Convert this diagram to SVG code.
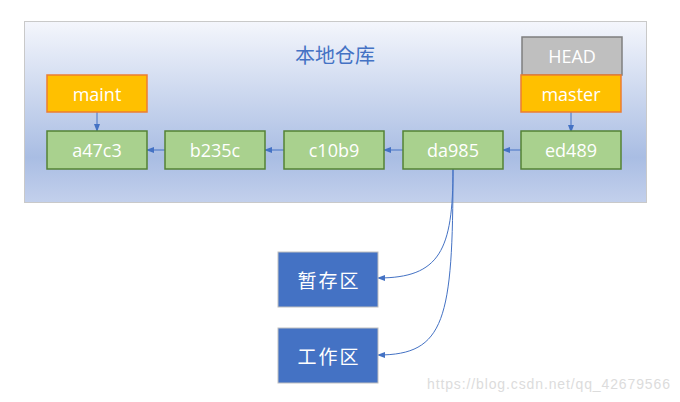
<svg xmlns="http://www.w3.org/2000/svg" width="680" height="402" viewBox="0 0 680 402">
<style>
.t{font-family:"Open Sans","Liberation Sans","Noto Sans CJK SC",sans-serif;font-size:18px;fill:#fff;text-anchor:middle;dominant-baseline:central}
.cjk{font-family:"Noto Sans CJK SC",sans-serif;font-size:19px;letter-spacing:2px}
.commit{fill:#a9d18e;stroke:#548235;stroke-width:1.5}
.br{fill:#ffc000;stroke:#ed7d31;stroke-width:1.5}
.area{fill:#4472c4;stroke:#bfbfbf;stroke-width:1}
.c{fill:none;stroke:#4472c4;stroke-width:1;marker-end:url(#ah)}
</style>
<defs>
<linearGradient id="bg" x1="0" y1="0" x2="0" y2="1">
<stop offset="0" stop-color="#f4f6fc"/>
<stop offset="0.75" stop-color="#a9bde3"/>
<stop offset="1" stop-color="#c3d0ec"/>
</linearGradient>
<marker id="ah" markerWidth="8" markerHeight="6" refX="7" refY="3" orient="auto" markerUnits="userSpaceOnUse">
<path d="M0,0 L8,3 L0,6 Z" fill="#4472c4"/>
</marker>
</defs>
<rect x="24.5" y="21.5" width="622" height="181" fill="url(#bg)" stroke="#c9c9c9" stroke-width="1"/>
<text x="335" y="54" style="font-family:'Noto Sans CJK SC',sans-serif;font-size:20px;fill:#4472c4;text-anchor:middle;dominant-baseline:central">本地仓库</text>
<g id="connectors">
<path class="c" d="M97,112 V131"/>
<path class="c" d="M571,112 V132"/>
<path class="c" d="M165,150 H147"/>
<path class="c" d="M284,150 H265"/>
<path class="c" d="M403,150 H384"/>
<path class="c" d="M521,150 H503"/>
<path class="c" d="M453,169 C453,250 440,278 378,278"/>
<path class="c" d="M453,169 C453,320 445,355 378,355"/>
</g>
<g id="HEAD"><rect x="522" y="37" width="100" height="38" fill="#bfbfbf" stroke="#7f7f7f" stroke-width="1.5"/><text class="t" x="572" y="56">HEAD</text></g>
<g id="maint"><rect class="br" x="47" y="75" width="100" height="37"/><text class="t" x="97" y="93.5">maint</text></g>
<g id="master"><rect class="br" x="521" y="75" width="100" height="37"/><text class="t" x="571" y="93.5">master</text></g>
<g id="a47c3"><rect class="commit" x="47" y="131" width="100" height="38"/><text class="t" x="97" y="150">a47c3</text></g>
<g id="b235c"><rect class="commit" x="165" y="131" width="100" height="38"/><text class="t" x="215" y="150">b235c</text></g>
<g id="c10b9"><rect class="commit" x="284" y="131" width="100" height="38"/><text class="t" x="334" y="150">c10b9</text></g>
<g id="da985"><rect class="commit" x="403" y="131" width="100" height="38"/><text class="t" x="453" y="150">da985</text></g>
<g id="ed489"><rect class="commit" x="521" y="131" width="100" height="38"/><text class="t" x="571" y="150">ed489</text></g>
<g id="stage"><rect class="area" x="278" y="252" width="100" height="55"/><text class="t cjk" x="329" y="279.5">暂存区</text></g>
<g id="work"><rect class="area" x="278" y="328" width="100" height="55"/><text class="t cjk" x="329" y="355.5">工作区</text></g>
<text x="427" y="389" textLength="243" style="font-family:'Liberation Sans',Arial,sans-serif;font-size:14px;fill:#dcdcdc">https://blog.csdn.net/qq_42679566</text>
</svg>
